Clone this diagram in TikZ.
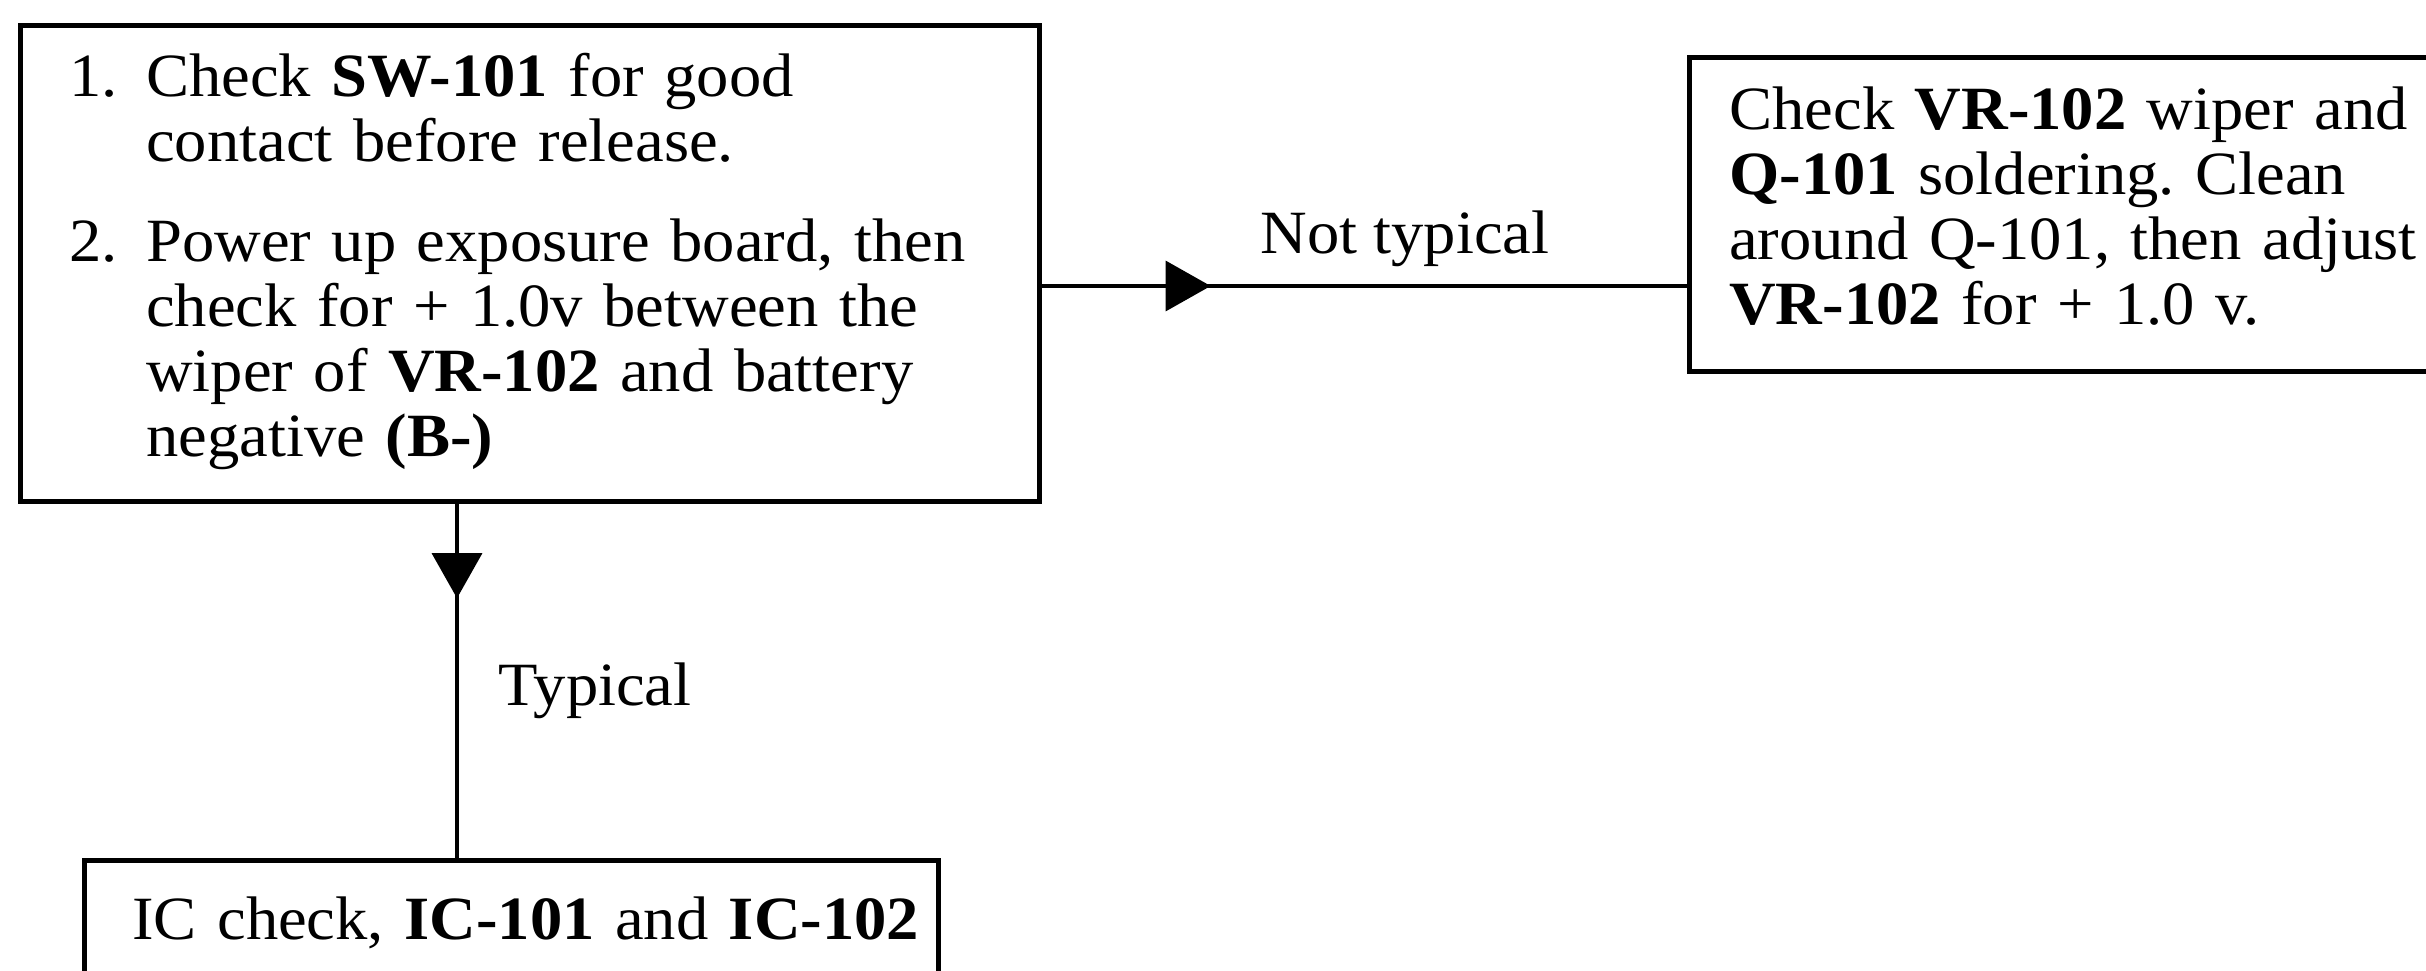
\documentclass[tikz,border=0pt]{standalone}
\usepackage{fontspec}
\setmainfont{Liberation Serif}[FakeStretch=1.05]
\usetikzlibrary{arrows.meta,decorations.markings}
\newcommand\diagfont{\fontsize{17.5pt}{18.5pt}\selectfont}
\frenchspacing
\begin{document}
\begin{tikzpicture}[
  box/.style={draw, line width=1.3pt, rectangle, anchor=north west, align=left, font=\diagfont, inner ysep=0pt},
  conn/.style={line width=0.9pt},
  lbl/.style={font=\diagfont, inner sep=0pt, anchor=base west},
  tipmark/.style={postaction={decorate}, decoration={markings, mark=at position #1 with {\arrow{Triangle[length=0.45cm,width=0.50cm]}}}},
]
\useasboundingbox (0,0) rectangle (24.26,-9.70);
\fill[white] (0,0) rectangle (24.26,-9.70);
\clip (0,0) rectangle (24.26,-9.70);

\node[box, text width=9.21cm, inner xsep=0.49cm, minimum height=4.76cm] (check) at (0.18,-0.23)
{\begin{tabular}{@{}l@{}l@{}}
\makebox[0.77cm][l]{1.} & Check \textbf{SW-101} for good\\
 & contact before release.\\[9.96pt]
\makebox[0.77cm][l]{2.} & Power up exposure board, then\\
 & check for + 1.0v between the\\
 & wiper of \textbf{VR-102} and battery\\
 & negative \textbf{(B-)}
\end{tabular}};

\node[box, text width=6.73cm, inner xsep=0.40cm, minimum height=3.14cm] (adjust) at (16.87,-0.55)
{\begin{tabular}{@{}l@{}}
Check \textbf{VR-102} wiper and\\
\textbf{Q-101} soldering. Clean\\
around Q-101, then adjust\\
\textbf{VR-102} for + 1.0 v.
\end{tabular}};

\node[box, text width=7.58cm, inner xsep=0.48cm, inner ysep=0.334cm] (ic) at (0.82,-8.58)
{\begin{tabular}{@{}l@{}}
IC check, \textbf{IC-101} and \textbf{IC-102}
\end{tabular}};

\coordinate (hy) at (0,-2.86);
\coordinate (vx) at (4.57,0);

\draw[conn, tipmark=0.262] (check.east |- hy) -- (adjust.west |- hy);
\draw[conn, tipmark=0.267] (check.south -| vx) -- (ic.north -| vx);

\node[lbl] (nt) at (12.60,-2.53) {Not typical};
\node[lbl] (ty) at (4.98,-7.05) {Typical};
\end{tikzpicture}
\end{document}
